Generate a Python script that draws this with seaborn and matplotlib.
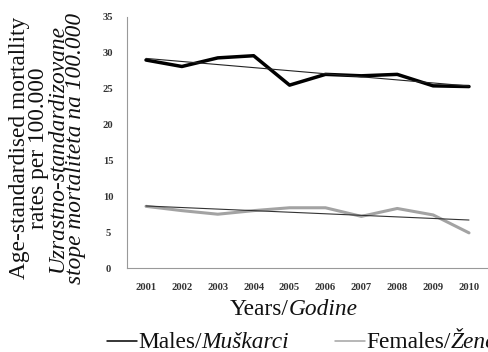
import matplotlib
matplotlib.use("Agg")
import matplotlib.pyplot as plt
import seaborn as sns
import pandas as pd
import numpy as np
from matplotlib.lines import Line2D

years = [2001, 2002, 2003, 2004, 2005, 2006, 2007, 2008, 2009, 2010]
males = [29.0, 28.1, 29.3, 29.6, 25.5, 27.0, 26.8, 27.0, 25.4, 25.3]
females = [8.6, 8.0, 7.5, 8.0, 8.4, 8.4, 7.2, 8.3, 7.4, 4.9]
yticks = [0, 5, 10, 15, 20, 25, 30, 35]

sns.set_theme(style="white")
plt.rcParams['font.family'] = ['Liberation Serif', 'DejaVu Serif']

df = pd.DataFrame({"year": years, "Males": males, "Females": females})

W, H = 489, 352
fig = plt.figure(figsize=(W/100, H/100), dpi=100)
ax = fig.add_axes([127/W, 1-268/H, (487-127)/W, (268-17)/H])

sns.lineplot(data=df, x="year", y="Males", ax=ax, color="black", lw=2.5)
sns.lineplot(data=df, x="year", y="Females", ax=ax, color="#a3a3a3", lw=2.2)
sns.regplot(data=df, x="year", y="Males", ax=ax, scatter=False, ci=None,
            truncate=True, line_kws=dict(color="#222222", lw=0.8))
sns.regplot(data=df, x="year", y="Females", ax=ax, scatter=False, ci=None,
            truncate=True, line_kws=dict(color="#333333", lw=0.8))

# 2001 at x=146 px, 2010 at x=469 px
ppy = (469 - 146) / 9
ax.set_xlim(2001 - (146-127)/ppy, 2010 + (487-469)/ppy)
ax.set_ylim(0, 35)
ax.set_xticks(years)
ax.set_xticklabels([str(y) for y in years])
ax.set_yticks(yticks)
ax.set_yticklabels([str(t) for t in yticks])
ax.tick_params(axis='both', length=0, labelsize=7.6, colors="#333333")
for lab in ax.get_xticklabels() + ax.get_yticklabels():
    lab.set_fontweight("bold")
for lab in ax.get_yticklabels():
    lab.set_horizontalalignment("center")
ax.tick_params(axis='y', pad=13.5)
ax.tick_params(axis='x', pad=11)
ax.set_xlabel("")
ax.set_ylabel("")
sns.despine(ax=ax)
for s in ["left", "bottom"]:
    ax.spines[s].set_color("#999999")
    ax.spines[s].set_linewidth(0.8)

fs = 16.8
ylines = [("Age-standardised mortallity", "normal", 20),
          ("rates per 100.000", "normal", 38.5),
          ("Uzrastno-standardizovane", "italic", 57),
          ("stope mortaliteta na 100.000", "italic", 75.5)]
for txt, style, xp in ylines:
    fig.text(xp/W, 1-148/H, txt, rotation=90, ha="center", va="center",
             fontsize=fs, fontstyle=style, color="#111111")

fig.canvas.draw()
renderer = fig.canvas.get_renderer()

def width(txt, style, size):
    t = fig.text(0, 0, txt, fontsize=size, fontstyle=style)
    w = t.get_window_extent(renderer).width
    t.remove()
    return w

def pieces(x0, y0, parts, size):
    x = x0
    for txt, style in parts:
        fig.text(x/W, 1-y0/H, txt, ha="left", va="baseline",
                 fontsize=size, fontstyle=style, color="#111111")
        x += width(txt, style, size)
    return x

# x label
xl = [("Years/", "normal"), ("Godine", "italic")]
tot = sum(width(t, s, fs) for t, s in xl)
pieces(294 - tot/2, 315, xl, fs)

# legend
fig.add_artist(Line2D([107/W, 137/W], [1-341/H, 1-341/H], color="black", lw=1.1))
pieces(138, 348, [("Males/", "normal"), ("Muškarci", "italic")], fs)
fig.add_artist(Line2D([335/W, 365/W], [1-341/H, 1-341/H], color="#a3a3a3", lw=1.1))
pieces(366, 348, [("Females/", "normal"), ("Žene", "italic")], fs)

fig.savefig("out.png", dpi=100)
